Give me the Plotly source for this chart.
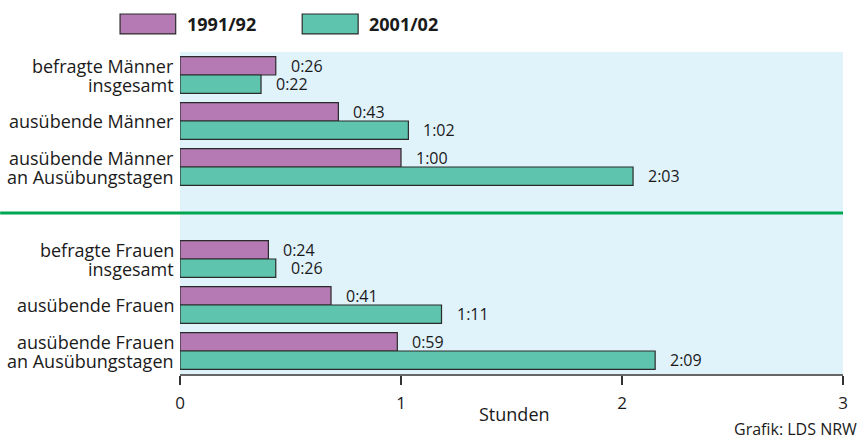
import plotly.graph_objects as go

# categories (men block, gap, women block)
men_labels = ["befragte Männer<br>insgesamt", "ausübende Männer",
              "ausübende Männer<br>an Ausübungstagen"]
women_labels = ["befragte Frauen<br>insgesamt", "ausübende Frauen",
                "ausübende Frauen<br>an Ausübungstagen"]

# minutes per day
men_1991 = [26, 43, 60]
men_2001 = [22, 62, 123]
women_1991 = [24, 41, 59]
women_2001 = [26, 71, 129]

series_names = ["1991/92", "2001/02"]
x_ticks = [0, 1, 2, 3]

PURPLE = "#b57ab3"
GREEN = "#5ec4ae"
LINE_GREEN = "#00a651"
BG = "#e0f2fa"
FONT = "Open Sans"
TXT = "#1a1a1a"
BARGAP = 0.2

labels = men_labels + [None] + women_labels
pos = list(range(len(labels)))
gap_pos = labels.index(None)

vals_1991 = men_1991 + [None] + women_1991
vals_2001 = men_2001 + [None] + women_2001


def hours(m):
    return [None if v is None else v / 60 for v in m]


def hmm(v):
    return "%d:%02d" % (v // 60, v % 60)


fig = go.Figure()
series = [(series_names[0], vals_1991, PURPLE), (series_names[1], vals_2001, GREEN)]
for name, vals, col in series:
    fig.add_trace(go.Bar(
        y=pos, x=hours(vals), orientation="h", name=name,
        marker=dict(color=col, line=dict(color="#2b2b2b", width=1.2)),
        showlegend=False, hoverinfo="skip",
    ))

# value labels next to the bars (grouped offset of each series)
half = (1 - BARGAP) / 4
for i, (name, vals, col) in enumerate(series):
    off = -half if i == 0 else half
    for p, v in zip(pos, vals):
        if v is None:
            continue
        fig.add_annotation(x=v / 60, y=p + off, xanchor="left", yanchor="middle",
                           xshift=13, showarrow=False, text=hmm(v),
                           font=dict(family=FONT, size=16, color=TXT))

# category labels, right aligned against the plot area
for p, lab in zip(pos, labels):
    if lab is None:
        continue
    lines = lab.split("<br>")
    n = len(lines)
    for k, line in enumerate(lines):
        fig.add_annotation(xref="paper", x=0, y=p, xanchor="right", yanchor="middle",
                           xshift=-4, yshift=9.5 * (n - 1) - 19 * k, showarrow=False,
                           text=line, font=dict(family=FONT, size=18, color=TXT))

fig.update_layout(
    width=864, height=439,
    margin=dict(l=180, r=20.5, t=52, b=65),
    paper_bgcolor="white", plot_bgcolor=BG,
    barmode="group", bargap=BARGAP, bargroupgap=0,
    font=dict(family=FONT, color=TXT),
)

fig.update_xaxes(
    range=[0, 3], tickvals=x_ticks, ticktext=[str(t) for t in x_ticks],
    showgrid=False, zeroline=False,
    showline=True, linecolor="#666666", linewidth=2,
    ticks="outside", ticklen=9, tickwidth=1.5, tickcolor="#333333",
    ticklabelstandoff=4,
    tickfont=dict(family=FONT, size=17, color=TXT),
)
fig.update_yaxes(
    range=[len(labels) - 0.5, -0.5],
    showgrid=False, zeroline=False, showline=False, ticks="",
    showticklabels=False,
)

# separator between men and women
fig.add_shape(type="line", xref="paper", yref="y",
              x0=-180 / 663.5, x1=1, y0=gap_pos, y1=gap_pos,
              line=dict(color=LINE_GREEN, width=3))

# custom legend with wide boxes
legend_items = [(series_names[0], PURPLE, -0.0904, -0.0065),
                (series_names[1], GREEN, 0.1843, 0.2687)]
for name, col, x0, x1 in legend_items:
    fig.add_shape(type="rect", xref="paper", yref="paper",
                  x0=x0, x1=x1, y0=1.056, y1=1.118,
                  fillcolor=col, line=dict(color="#2b2b2b", width=1.2))
    fig.add_annotation(xref="paper", yref="paper", x=x1 + 0.014, y=1.087,
                       xanchor="left", yanchor="middle", showarrow=False,
                       text="<b>%s</b>" % name,
                       font=dict(family=FONT, size=18, color=TXT))

fig.add_annotation(xref="paper", yref="paper", x=0.505, y=-0.125,
                   xanchor="center", yanchor="middle", showarrow=False,
                   text="Stunden", font=dict(family=FONT, size=18, color=TXT))
fig.add_annotation(xref="paper", yref="paper", x=1.024, y=-0.172,
                   xanchor="right", yanchor="middle", showarrow=False,
                   text="Grafik: LDS NRW", font=dict(family=FONT, size=16, color=TXT))

fig.write_html("out.html", config={"displayModeBar": False},
               post_script="document.body.style.margin='0px';")
